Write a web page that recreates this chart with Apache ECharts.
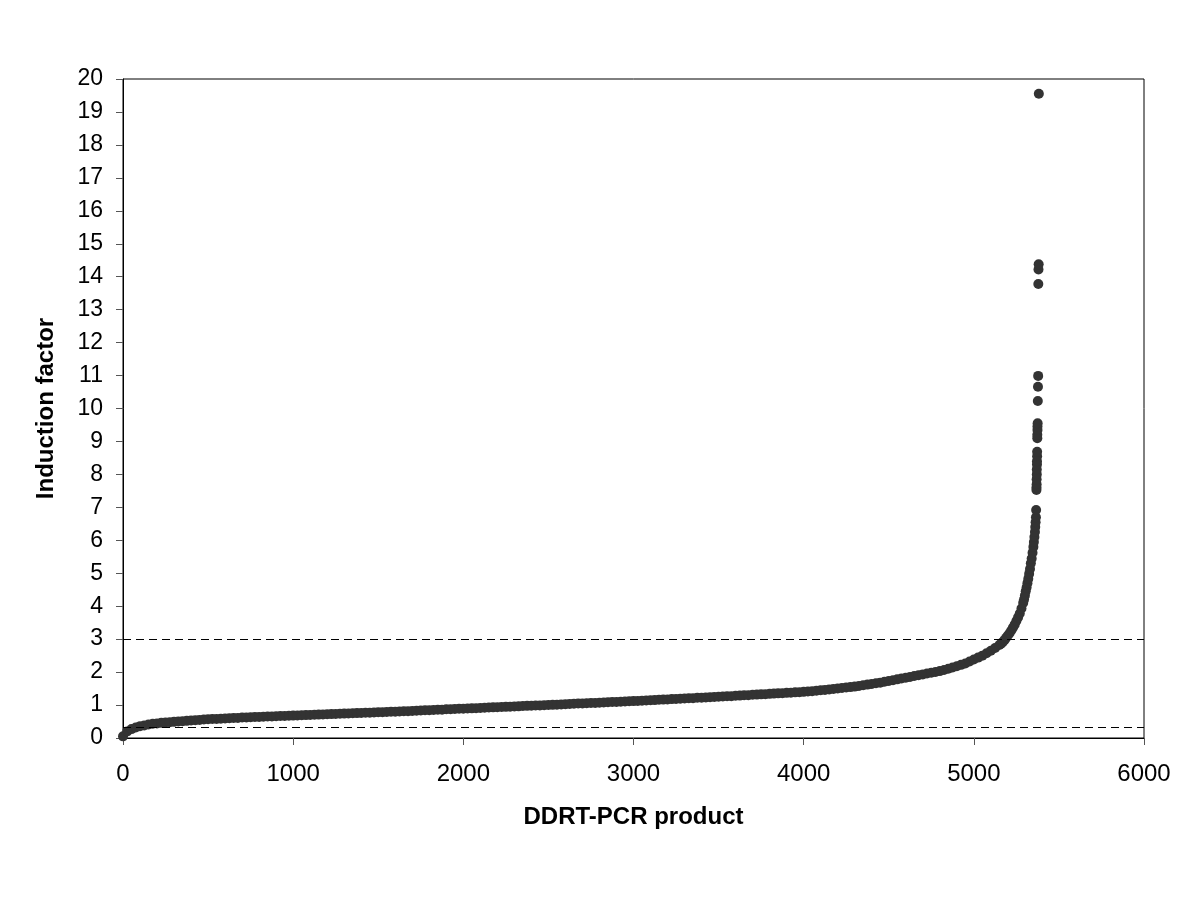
<!DOCTYPE html>
<html>
<head>
<meta charset="utf-8">
<script src="https://cdn.jsdelivr.net/npm/echarts@6/dist/echarts.min.js"></script>
<style>
html,body{margin:0;padding:0;background:#fff;}
#chart{width:1200px;height:900px;}
</style>
</head>
<body>
<div id="chart"></div>
<script>
// DDRT-PCR product rank (x) and induction factor (y)
const productRank = [
  0,25,50,75,100,125,150,175,200,225,250,275,300,325,350,375,400,425,450,475,
  500,525,550,575,600,625,650,675,700,725,750,775,800,825,850,875,900,925,950,975,
  1000,1025,1050,1075,1100,1125,1150,1175,1200,1225,1250,1275,1300,1325,1350,1375,1400,1425,1450,1475,
  1500,1525,1550,1575,1600,1625,1650,1675,1700,1725,1750,1775,1800,1825,1850,1875,1900,1925,1950,1975,
  2000,2025,2050,2075,2100,2125,2150,2175,2200,2225,2250,2275,2300,2325,2350,2375,2400,2425,2450,2475,
  2500,2525,2550,2575,2600,2625,2650,2675,2700,2725,2750,2775,2800,2825,2850,2875,2900,2925,2950,2975,
  3000,3025,3050,3075,3100,3125,3150,3175,3200,3225,3250,3275,3300,3325,3350,3375,3400,3425,3450,3475,
  3500,3525,3550,3575,3600,3625,3650,3675,3700,3725,3750,3775,3800,3825,3850,3875,3900,3925,3950,3975,
  4000,4025,4050,4075,4100,4125,4150,4175,4200,4225,4250,4275,4300,4325,4350,4375,4400,4425,4450,4475,
  4500,4525,4550,4575,4600,4625,4650,4675,4700,4725,4750,4775,4800,4825,4850,4875,4900,4925,4950,4975,
  5000,5025,5050,5075,5100,5125,5150,5160,5170,5180,5190,5200,5210,5220,5230,5240,5250,5260,5270,5280,
  5290,5295,5300,5305,5310,5315,5320,5325,5330,5335,5340,5345,5350,5353,5356,5359,5361,5363,5365,5366,
  5368,5368,5369,5369,5370,5370,5371,5371,5372,5372,
  5373,5373,5374,5374,5375,
  5376,5377,5378,
  5379,5380,5381,
  5382
];
const inductionFactor = [
  0.05,0.20,0.27,0.32,0.36,0.38,0.41,0.43,0.44,0.46,0.47,0.48,0.49,0.50,0.51,0.52,0.53,0.54,0.55,0.56,
  0.57,0.575,0.58,0.585,0.59,0.60,0.605,0.61,0.62,0.625,0.63,0.635,0.64,0.645,0.65,0.655,0.66,0.665,0.67,0.675,
  0.68,0.685,0.69,0.695,0.70,0.705,0.71,0.715,0.72,0.725,0.73,0.735,0.74,0.745,0.75,0.755,0.76,0.765,0.77,0.775,
  0.78,0.785,0.79,0.795,0.80,0.805,0.81,0.815,0.82,0.83,0.835,0.84,0.845,0.85,0.855,0.86,0.87,0.875,0.88,0.885,
  0.89,0.895,0.90,0.905,0.91,0.92,0.925,0.93,0.935,0.94,0.945,0.95,0.955,0.96,0.97,0.975,0.98,0.985,0.99,0.995,
  1.00,1.006,1.01,1.02,1.025,1.03,1.04,1.045,1.05,1.055,1.06,1.065,1.07,1.08,1.085,1.09,1.095,1.10,1.11,1.115,
  1.12,1.126,1.13,1.14,1.145,1.15,1.16,1.165,1.17,1.18,1.185,1.19,1.20,1.205,1.21,1.22,1.225,1.23,1.24,1.245,
  1.25,1.257,1.265,1.27,1.28,1.287,1.295,1.30,1.31,1.317,1.325,1.33,1.34,1.347,1.355,1.36,1.37,1.377,1.385,1.39,
  1.40,1.41,1.42,1.435,1.45,1.46,1.475,1.49,1.50,1.515,1.53,1.545,1.56,1.58,1.60,1.62,1.64,1.66,1.68,1.705,
  1.73,1.755,1.78,1.805,1.83,1.855,1.88,1.905,1.93,1.955,1.98,2.005,2.03,2.065,2.10,2.14,2.18,2.22,2.26,2.32,
  2.38,2.44,2.50,2.57,2.65,2.73,2.82,2.86,2.91,2.97,3.04,3.11,3.18,3.26,3.35,3.44,3.55,3.66,3.78,3.93,
  4.10,4.20,4.32,4.45,4.57,4.70,4.83,4.98,5.13,5.30,5.45,5.62,5.80,5.95,6.10,6.25,6.40,6.55,6.70,6.92,
  7.53,7.60,7.70,7.85,8.00,8.15,8.30,8.40,8.55,8.69,
  9.10,9.20,9.35,9.45,9.55,
  10.23,10.66,10.99,
  13.78,14.22,14.38,
  19.55
];
// Threshold lines (induction factor)
const thresholds = [3, 0.33];
const xTicks = {min: 0, max: 6000, interval: 1000};
const yTicks = {min: 0, max: 20, interval: 1};

const points = productRank.map((x, i) => [x, inductionFactor[i]]);

const chart = echarts.init(document.getElementById('chart'), null, {renderer: 'canvas'});
const FONT = '"Liberation Sans", Arial, sans-serif';
chart.setOption({
  animation: false,
  backgroundColor: '#ffffff',
  grid: {
    left: 123, right: 56, top: 79, bottom: 162,
    show: true, borderColor: '#000', borderWidth: 1, backgroundColor: 'transparent'
  },
  xAxis: {
    type: 'value',
    min: xTicks.min, max: xTicks.max, interval: xTicks.interval,
    name: 'DDRT-PCR product',
    nameLocation: 'middle',
    nameGap: 67,
    nameTextStyle: {fontFamily: FONT, fontSize: 24, fontWeight: 'bold', color: '#000'},
    axisLine: {show: true, lineStyle: {color: '#000', width: 1}},
    axisTick: {show: true, inside: false, length: 7, lineStyle: {color: '#555'}},
    axisLabel: {fontFamily: FONT, fontSize: 24, color: '#000', margin: 24,
      formatter: v => String(v)},
    splitLine: {show: false}
  },
  yAxis: {
    type: 'value',
    min: yTicks.min, max: yTicks.max, interval: yTicks.interval,
    name: 'Induction factor',
    nameLocation: 'middle',
    nameGap: 65,
    nameRotate: 90,
    nameTextStyle: {fontFamily: FONT, fontSize: 24, fontWeight: 'bold', color: '#000'},
    axisLine: {show: true, lineStyle: {color: '#000', width: 1}},
    axisTick: {show: true, inside: false, length: 7, lineStyle: {color: '#555'}},
    axisLabel: {fontFamily: FONT, fontSize: 23, color: '#000', margin: 20,
      formatter: v => String(v)},
    splitLine: {show: false}
  },
  series: [{
    type: 'scatter',
    data: points,
    symbol: 'circle',
    symbolSize: 10,
    itemStyle: {color: '#333333', opacity: 1},
    silent: true,
    markLine: {
      silent: true,
      symbol: ['none', 'none'],
      label: {show: false},
      lineStyle: {color: '#000', width: 1, type: [8, 5]},
      data: thresholds.map(v => ({yAxis: v}))
    }
  }]
});
</script>
</body>
</html>
